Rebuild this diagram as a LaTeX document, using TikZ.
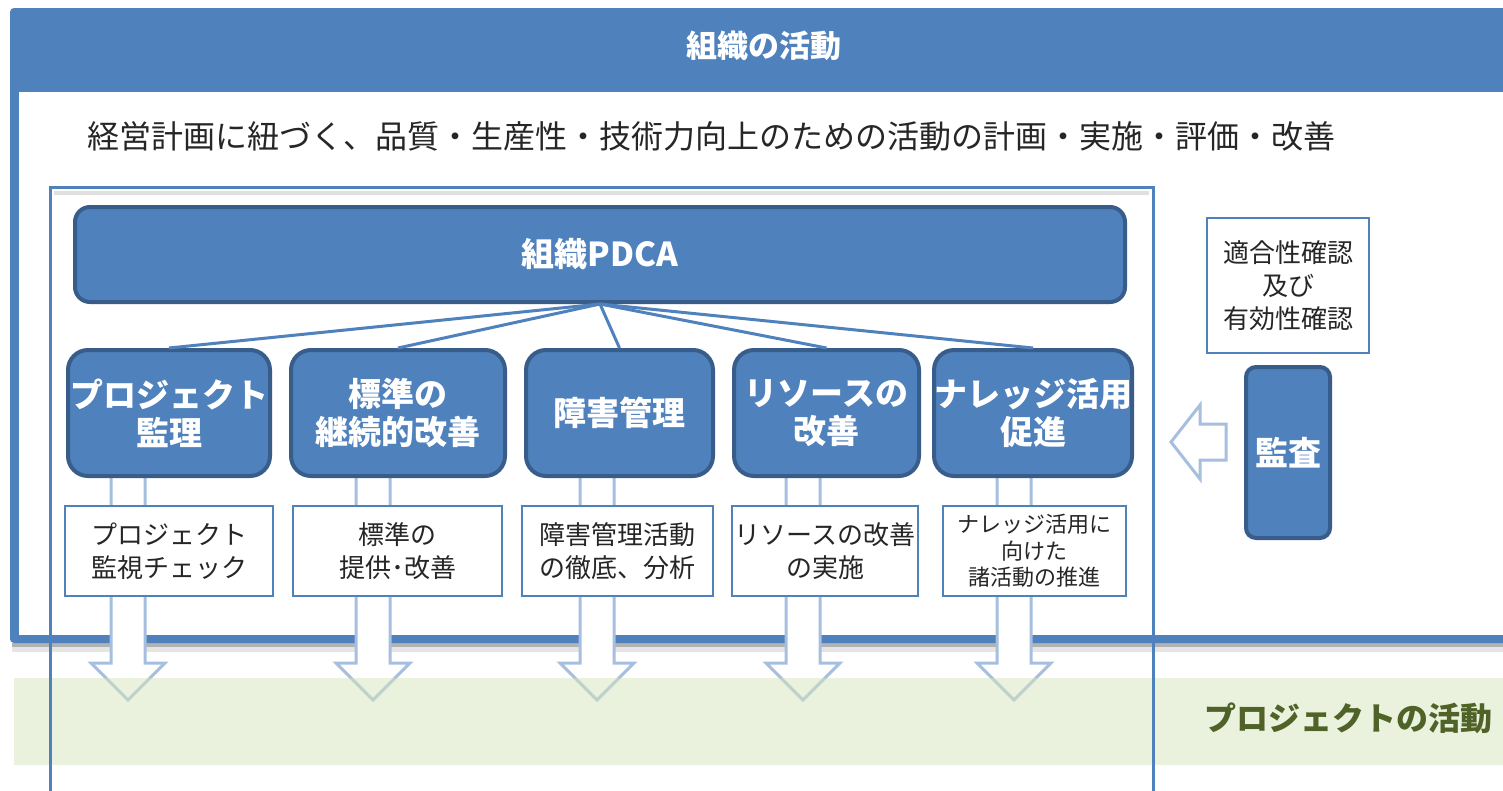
\documentclass[tikz,border=0pt]{standalone}
\usepackage{fontspec}
\newfontfamily\jp{Noto Sans CJK JP}
\definecolor{mblue}{HTML}{4F81BD}
\definecolor{dblue}{HTML}{385D8A}
\definecolor{lblue}{HTML}{A7BFDE}
\definecolor{gband}{HTML}{D7E4BD}
\definecolor{gtext}{HTML}{4F6228}
\definecolor{tgray}{HTML}{262626}
\begin{document}
\begin{tikzpicture}[x=1pt,y=-1pt,
  bluebox/.style={draw=dblue, line width=4pt, fill=mblue, rounded corners=20pt, text=white,
    font=\jp\bfseries\fontsize{33}{38}\selectfont, align=center, inner sep=0pt},
  textbox/.style={draw=mblue, line width=2.2pt, fill=white, text=tgray,
    font=\jp\fontsize{26}{33}\selectfont, align=center, inner sep=0pt},
  link/.style={draw=mblue, line width=3pt},
  hollow/.style={draw=lblue, line width=3pt, fill=white, line join=miter}]
\useasboundingbox (0,0) rectangle (1503,790);
\fill[white] (0,0) rectangle (1503,790);
% outer organisation frame
\fill[black!10] (12,643) rectangle (1503,652);
\fill[black!30] (12,643) rectangle (1503,647);
\fill[mblue, rounded corners=4pt] (10,8) rectangle (1530,643);
\fill[white] (19,92) rectangle (1530,635);
\node[font=\jp\bfseries\fontsize{31}{36}\selectfont, text=white] (title) at (764,46) {組織の活動};
\node[anchor=west, font=\jp\fontsize{32}{38}\selectfont, text=tgray, inner sep=0pt] (plan) at (87,136)
  {経営計画に紐づく、品質・生産性・技術力向上のための活動の計画・実施・評価・改善};
% hollow down arrows
\foreach \cx in {128,373,597,803,1014}{
  \draw[hollow] ({\cx-17},470) -- ({\cx-17},663) -- ({\cx-37},663) -- (\cx,700)
     -- ({\cx+37},663) -- ({\cx+17},663) -- ({\cx+17},470);
}
% project band
\fill[gband, fill opacity=0.5] (14,678) rectangle (1503,765);
\node[anchor=east, font=\jp\bfseries\fontsize{32}{38}\selectfont, text=gtext, inner sep=0pt] (proj) at (1493,718) {プロジェクトの活動};
% inner frame
\draw[black!12, line width=4pt] (54,193) -- (1149,193);
\draw[mblue, line width=3pt] (50,187) rectangle (1153,830);
% PDCA
\node[bluebox, rounded corners=15pt, minimum width=1050pt, minimum height=95pt] (pdca) at (600,254.5) {組織PDCA};
\node[bluebox, minimum width=202pt, minimum height=126pt] (b1) at (169,413) {プロジェクト\\監理};
\node[bluebox, minimum width=214pt, minimum height=126pt] (b2) at (398,413) {標準の\\継続的改善};
\node[bluebox, minimum width=187pt, minimum height=126pt] (b3) at (619.5,413) {障害管理};
\node[bluebox, minimum width=185pt, minimum height=126pt] (b4) at (826.5,413) {リソースの\\改善};
\node[bluebox, minimum width=186pt, minimum height=126pt] (b5) at (1033,413) {ナレッジ活用\\促進};
\foreach \b in {b1,b2,b3,b4,b5}{ \draw[link] (pdca.south) -- (\b.north); }
\node[textbox, minimum width=208pt, minimum height=90pt] (t1) at (169,551) {プロジェクト\\監視チェック};
\node[textbox, minimum width=209pt, minimum height=90pt] (t2) at (397.5,551) {標準の\\提供･改善};
\node[textbox, minimum width=191pt, minimum height=90pt] (t3) at (617.5,551) {障害管理活動\\の徹底、分析};
\node[textbox, minimum width=186pt, minimum height=90pt] (t4) at (825,551) {リソースの改善\\の実施};
\node[textbox, minimum width=183pt, minimum height=90pt, font=\jp\fontsize{22}{26.5}\selectfont] (t5) at (1034.5,551) {ナレッジ活用に\\向けた\\諸活動の推進};
% audit
\node[textbox, minimum width=162pt, minimum height=135pt] (conf) at (1288,285.5) {適合性確認\\及び\\有効性確認};
\node[bluebox, rounded corners=10pt, minimum width=84pt, minimum height=171pt] (audit) at (1288,452.5) {監査};
\draw[hollow] (1226,424) -- (1200,424) -- (1200,405) -- (1171,442) -- (1200,479) -- (1200,460) -- (1226,460) -- cycle;
\end{tikzpicture}
\end{document}
